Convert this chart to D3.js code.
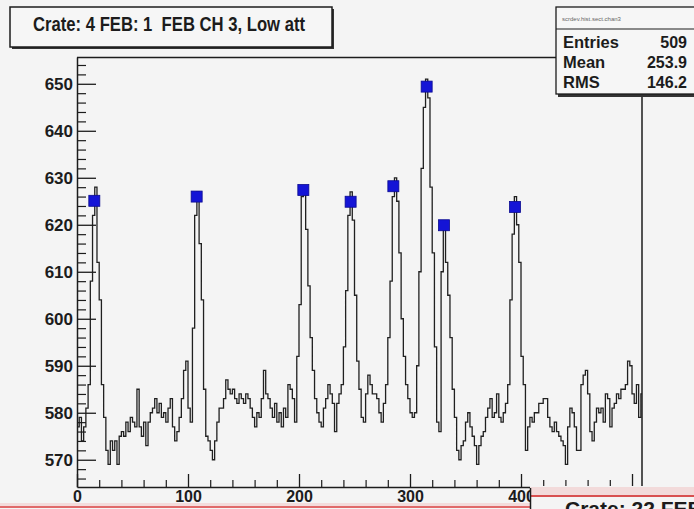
<!DOCTYPE html>
<html><head><meta charset="utf-8">
<script src="https://cdn.jsdelivr.net/npm/d3@7"></script>
<style>body{margin:0;background:#f4f4f4;} svg{display:block;}</style>
</head><body><svg id="c" width="694" height="509"></svg>
<script>
// ---------------- data ----------------
const binWidth = 2;           // channels per bin
const counts = [
 577,579,574,577,581,586,608,622,628,612, 604,586,579,572,569,574,572,574,569,575,
 576,575,578,576,579,578,577,585,577,575, 578,573,578,580,581,583,580,582,579,580,
 578,581,583,577,574,576,579,583,589,591, 581,578,598,622,627,616,604,585,575,574,
 572,570,574,578,581,581,583,587,585,584, 585,583,582,584,583,582,584,583,581,579,
 577,580,579,583,589,584,583,581,579,582, 578,580,577,581,579,586,585,583,578,592,
 603,626,628,619,607,596,589,583,580,578, 577,581,583,586,584,582,576,582,584,586,
 594,606,622,627,621,605,591,585,579,578, 584,588,586,584,584,583,580,578,582,586,
 596,608,626,630,625,614,600,592,586,583, 580,579,580,590,610,632,645,651,647,628,
 614,594,578,576,610,620,612,605,596,585, 579,572,570,573,574,578,580,577,575,573,
 569,573,575,576,579,581,583,579,580,584, 579,578,580,582,586,604,618,626,620,612,
 592,586,572,577,579,578,580,580,582,582, 583,583,579,577,576,578,576,575,574,573,
 569,577,581,580,577,572,572,586,588,589, 584,576,574,578,581,580,581,578,584,583,
 577,581,582,584,583,585,585,586,591,590, 584,582,586,579,584
];
const peakX = [15.6, 107.8, 203.9, 246.5, 285.0, 315.0, 330.6, 394.6];
const peakY = [625.1, 626.0, 627.4, 624.9, 628.2, 649.4, 619.9, 623.8];
const xTicks = [0, 100, 200, 300, 400, 500];
const xTickLabels = ["0", "100", "200", "300", "400", ""];   // 500 is hidden under the next pad
const yTicks = [570, 580, 590, 600, 610, 620, 630, 640, 650];
const titleText = "Crate: 4 FEB: 1  FEB CH 3, Low att";
const statHeader = "scrdev.hist.sect.chan3";
const statLabels = ["Entries", "Mean", "RMS"];
const statValues = ["509", "253.9", "146.2"];
const nextPadTitle = "Crate: 22 FEB: 1";

// ---------------- drawing ----------------
const W = 694, H = 509;
const BG = "#f4f4f4", INK = "#1c1c1c";
const FONT = "'Liberation Sans', Arial, sans-serif";
const svg = d3.select("#c");
svg.append("rect").attr("width", W).attr("height", H).attr("fill", BG);

const x = d3.scaleLinear().domain([0, 509]).range([77, 642]);
const y = d3.scaleLinear().domain([564.2, 655.7]).range([487, 57]);
const [x0, x1] = x.range(), [y0, y1] = y.range();

svg.append("clipPath").attr("id", "frame")
  .append("rect").attr("x", x0).attr("y", y1).attr("width", x1 - x0).attr("height", y0 - y1);
svg.append("clipPath").attr("id", "leftpad")
  .append("rect").attr("x", 0).attr("y", 0).attr("width", 530).attr("height", H);

// histogram (step line)
const pts = counts.map((v, i) => [i * binWidth, v]);
pts.push([counts.length * binWidth, counts[counts.length - 1]]);
const line = d3.line().x(d => x(d[0])).y(d => y(d[1])).curve(d3.curveStepAfter);
svg.append("path").attr("d", line(pts)).attr("clip-path", "url(#frame)")
  .attr("fill", "none").attr("stroke", "#202020").attr("stroke-width", 1.3);

// frame lines
svg.append("line").attr("x1", x0).attr("x2", x1).attr("y1", y1 + 0.5).attr("y2", y1 + 0.5)
  .attr("stroke", INK).attr("stroke-width", 1.5);
svg.append("line").attr("x1", x1).attr("x2", x1).attr("y1", y1).attr("y2", y0)
  .attr("stroke", INK).attr("stroke-width", 1.5);

// y axis (ticks inside)
const yMinor = d3.range(566, 656, 2).filter(v => v % 10 !== 0);
svg.append("g").attr("transform", `translate(${x0},0)`)
  .call(d3.axisLeft(y).tickValues(yMinor).tickSize(-9).tickFormat(""))
  .call(g => g.select(".domain").remove())
  .selectAll("line").attr("stroke", INK).attr("stroke-width", 1.2);
const gy = svg.append("g").attr("transform", `translate(${x0},0)`)
  .call(d3.axisLeft(y).tickValues(yTicks).tickSize(-19).tickPadding(4).tickSizeOuter(0));
gy.select(".domain").attr("stroke", INK).attr("stroke-width", 1.5);
gy.selectAll("line").attr("stroke", INK).attr("stroke-width", 1.3);
gy.selectAll("text").attr("font-family", FONT).attr("font-weight", "bold")
  .attr("font-size", 17).attr("fill", INK);

// x axis (ticks inside)
const xMinor = d3.range(20, 509, 20).filter(v => v % 100 !== 0);
svg.append("g").attr("transform", `translate(0,${y0})`)
  .call(d3.axisBottom(x).tickValues(xMinor).tickSize(-7).tickFormat(""))
  .call(g => g.select(".domain").remove())
  .selectAll("line").attr("stroke", INK).attr("stroke-width", 1.2);
const gx = svg.append("g").attr("transform", `translate(0,${y0})`)
  .call(d3.axisBottom(x).tickValues(xTicks).tickSize(-13).tickSizeOuter(0).tickFormat(""));
gx.select(".domain").attr("stroke", INK).attr("stroke-width", 1.5);
gx.selectAll("line").attr("stroke", INK).attr("stroke-width", 1.3);
// x labels, clipped where the neighbouring pad covers them
const gxl = svg.append("g").attr("clip-path", "url(#leftpad)")
  .append("g").attr("transform", `translate(0,${y0})`)
  .call(d3.axisBottom(x).tickValues(xTicks).tickSize(0).tickPadding(4)
    .tickFormat((d, i) => xTickLabels[i]));
gxl.select(".domain").remove();
gxl.selectAll("text").attr("font-family", FONT).attr("font-weight", "bold")
  .attr("font-size", 16).attr("fill", INK);

// peak markers
svg.append("g").selectAll("rect").data(peakX).join("rect")
  .attr("x", (d) => x(d) - 5.5).attr("y", (d, i) => y(peakY[i]) - 5.5)
  .attr("width", 11).attr("height", 11)
  .attr("fill", "#1414d6").attr("stroke", "#0a0a90").attr("stroke-width", 0.8);

// title box
svg.append("rect").attr("x", 12).attr("y", 9).attr("width", 322).attr("height", 40).attr("fill", "#333");
svg.append("rect").attr("x", 10).attr("y", 7).attr("width", 322).attr("height", 40)
  .attr("fill", "#f6f6f6").attr("stroke", INK).attr("stroke-width", 1.5);
svg.append("text").attr("x", 33).attr("y", 31).text(titleText)
  .style("white-space", "pre")
  .attr("font-family", FONT).attr("font-weight", "bold").attr("font-size", 21)
  .attr("textLength", 272).attr("lengthAdjust", "spacingAndGlyphs").attr("fill", INK);

// stats box
svg.append("rect").attr("x", 558).attr("y", 9).attr("width", 150).attr("height", 88).attr("fill", "#333");
svg.append("rect").attr("x", 556).attr("y", 7).attr("width", 150).attr("height", 87)
  .attr("fill", "#f6f6f6").attr("stroke", INK).attr("stroke-width", 1.3);
svg.append("line").attr("x1", 556).attr("x2", 694).attr("y1", 29).attr("y2", 29)
  .attr("stroke", INK).attr("stroke-width", 1);
svg.append("text").attr("x", 562).attr("y", 21).text(statHeader)
  .attr("font-family", FONT).attr("font-size", 6).attr("fill", "#666");
statLabels.forEach((s, i) => {
  svg.append("text").attr("x", 563).attr("y", 48 + i * 20).text(s)
    .attr("font-family", FONT).attr("font-weight", "bold").attr("font-size", 16.5).attr("fill", INK);
  svg.append("text").attr("x", 687).attr("y", 48 + i * 20).text(statValues[i])
    .attr("text-anchor", "end")
    .attr("font-family", FONT).attr("font-weight", "bold").attr("font-size", 16).attr("fill", INK);
});

// bottom: neighbouring pads
svg.append("rect").attr("x", 0).attr("y", 503).attr("width", 530).attr("height", 3).attr("fill", "#f3dcdc");
svg.append("line").attr("x1", 0).attr("x2", 530).attr("y1", 507).attr("y2", 507)
  .attr("stroke", "#e06a6a").attr("stroke-width", 2);
svg.append("rect").attr("x", 530).attr("y", 486).attr("width", 164).attr("height", 23).attr("fill", BG);
svg.append("rect").attr("x", 530).attr("y", 487).attr("width", 164).attr("height", 8).attr("fill", "#f2dada");
svg.append("line").attr("x1", 530).attr("x2", 694).attr("y1", 496).attr("y2", 496)
  .attr("stroke", "#d85050").attr("stroke-width", 2);
svg.append("line").attr("x1", 530.5).attr("x2", 530.5).attr("y1", 488).attr("y2", 509)
  .attr("stroke", INK).attr("stroke-width", 1.5);
svg.append("text").attr("x", 565).attr("y", 516).text(nextPadTitle)
  .attr("font-family", FONT).attr("font-weight", "bold").attr("font-size", 21).attr("fill", INK);
</script></body></html>
